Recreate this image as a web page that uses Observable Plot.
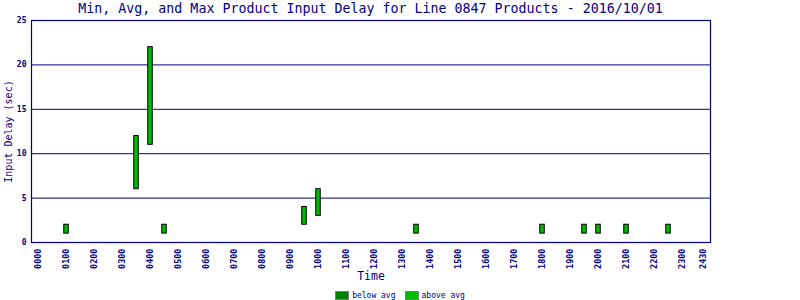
<!DOCTYPE html>
<html>
<head>
<meta charset="utf-8">
<script src="https://cdn.jsdelivr.net/npm/d3@7"></script>
<script src="https://cdn.jsdelivr.net/npm/@observablehq/plot@0.6"></script>
<style>
  body { margin: 0; background: #fff; }
  #wrap { width: 800px; height: 300px; overflow: hidden; font-family: "DejaVu Sans Mono", "Liberation Mono", monospace; color: #000080; }
  #title { width: 741px; height: 17px; line-height: 18px; text-align: center; font-size: 13.3px; white-space: nowrap; }
  #legend { box-sizing: border-box; width: 800px; height: 17px; display: flex; justify-content: center; align-items: center; gap: 9px; font-size: 8px; line-height: 9px; padding-top: 7px; }
  .item { display: flex; align-items: center; gap: 3px; }
  .sw { width: 12px; height: 7px; border: 1px solid #808080; display: inline-block; }
  svg { display: block; overflow: visible; }
</style>
</head>
<body>
<div id="wrap">
  <div id="title"></div>
  <div id="chart"></div>
  <div id="legend"></div>
</div>
<script>
const titleText = "Min, Avg, and Max Product Input Delay for Line 0847 Products - 2016/10/01";
const xLabel = "Time";
const yLabel = "Input Delay (sec)";

// time of each bar, in hours
const hours = [1.0, 3.5, 4.0, 4.5, 9.5, 10.0, 13.5, 18.0, 19.5, 20.0, 21.0, 22.5];
const minDelay = [1, 6, 11, 1, 2, 3, 1, 1, 1, 1, 1, 1];
const maxDelay = [2, 12, 22, 2, 4, 6, 2, 2, 2, 2, 2, 2];

const xTickValues = [0,1,2,3,4,5,6,7,8,9,10,11,12,13,14,15,16,17,18,19,20,21,22,23,23.75];
const xTickLabels = ["0000","0100","0200","0300","0400","0500","0600","0700","0800","0900","1000","1100","1200","1300","1400","1500","1600","1700","1800","1900","2000","2100","2200","2300","2430"];
const yTickValues = [0, 5, 10, 15, 20, 25];

const legendLabels = ["below avg", "above avg"];
const legendColors = ["#008000", "#00bb00"];

const navy = "#000080";
const data = hours.map((h, i) => ({h, lo: minDelay[i], hi: maxDelay[i]}));

document.getElementById("title").textContent = titleText;

const chart = Plot.plot({
  width: 800,
  height: 266,
  marginLeft: 31,
  marginRight: 90,
  marginTop: 3,
  marginBottom: 41,
  style: {fontFamily: "DejaVu Sans Mono, Liberation Mono, monospace", color: navy, background: "transparent"},
  x: {domain: [-0.25, 24], axis: null},
  y: {domain: [0, 25], axis: null},
  marks: [
    Plot.gridY(yTickValues, {stroke: navy, strokeOpacity: 1, strokeWidth: 1}),
    Plot.frame({stroke: navy, strokeWidth: 1.2}),
    Plot.axisY({ticks: yTickValues, tickSize: 0, tickPadding: 5, fontSize: 8, fontWeight: "bold", fill: navy, label: null}),
    Plot.axisX({ticks: xTickValues, tickFormat: (d, i) => xTickLabels[i], tickRotate: -90, tickSize: 0, tickPadding: 6, fontSize: 8.5, fontWeight: "bold", fill: navy, label: null}),
    Plot.rect(data, {
      x1: d => d.h - 0.08,
      x2: d => d.h + 0.08,
      y1: "lo",
      y2: "hi",
      fill: legendColors[1],
      stroke: "#000",
      strokeWidth: 1
    }),
    Plot.text([xLabel], {frameAnchor: "bottom", dy: 37, text: d => d, fontSize: 11.5, fill: navy}),
    Plot.text([yLabel], {frameAnchor: "left", dx: -23, rotate: -90, textAnchor: "middle", text: d => d, fontSize: 10, fill: navy})
  ]
});
document.getElementById("chart").appendChild(chart);

const legend = document.getElementById("legend");
legendLabels.forEach((lab, i) => {
  const it = document.createElement("span");
  it.className = "item";
  const sw = document.createElement("span");
  sw.className = "sw";
  sw.style.background = legendColors[i];
  const tx = document.createElement("span");
  tx.textContent = lab;
  it.appendChild(sw);
  it.appendChild(tx);
  legend.appendChild(it);
});
</script>
</body>
</html>
